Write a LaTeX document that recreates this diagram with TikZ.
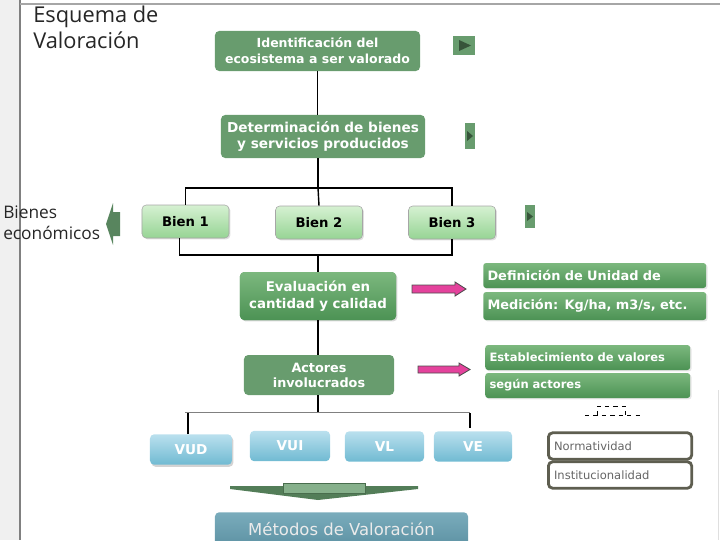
\documentclass[tikz,border=0pt]{standalone}
\usepackage{fontspec}
\setmainfont{DejaVu Sans}
\newfontfamily\titlefont{Open Sans}
\usepackage{xcolor}
\usetikzlibrary{shadows}
\definecolor{verdeop}{RGB}{104,156,110}
\definecolor{verdeosc}{RGB}{55,85,58}
\definecolor{verdesup}{RGB}{124,184,126}
\definecolor{verdeinf}{RGB}{76,146,84}
\definecolor{biensup}{RGB}{214,241,210}
\definecolor{bieninf}{RGB}{150,212,148}
\definecolor{azulsup}{RGB}{186,224,238}
\definecolor{azulinf}{RGB}{112,186,210}
\definecolor{metsup}{RGB}{122,172,188}
\definecolor{metinf}{RGB}{78,132,150}
\definecolor{rosa}{RGB}{228,66,156}
\definecolor{gris}{RGB}{94,94,80}
\begin{document}
\begin{tikzpicture}[x=0.025cm,y=-0.025cm,
		paso/.style={fill=verdeop,rounded corners=3pt,text=white,font=\bfseries,align=center,inner sep=0pt},
		bien/.style={draw=gray!70,top color=biensup,bottom color=bieninf,rounded corners=3pt,font=\fontsize{9.4}{11}\bfseries,minimum width=2.175cm,minimum height=0.825cm,drop shadow={opacity=0.25,shadow xshift=1pt,shadow yshift=-1pt}},
		defi/.style={top color=verdesup,bottom color=verdeinf,rounded corners=2pt,text=white,font=\bfseries,anchor=west,inner xsep=3pt,align=left,drop shadow={opacity=0.2,shadow xshift=1pt,shadow yshift=-1pt}},
		valor/.style={top color=azulsup,bottom color=azulinf,rounded corners=3pt,text=white,font=\fontsize{9.7}{11}\bfseries,minimum height=0.76cm},
		marco/.style={draw=gris,line width=2pt,fill=white,rounded corners=3pt,text=gray!80!black,font=\fontsize{8.2}{10}\selectfont,minimum width=3.55cm,minimum height=0.66cm,anchor=west,inner xsep=4pt,text width=3.3cm,align=left}]
	\useasboundingbox (0,0) rectangle (720,540);
	\clip (0,0) rectangle (720,540);
	% marco de la diapositiva
	\fill[gray!12] (0,0) rectangle (20,540);
	\draw[gray,line width=1.2pt] (20,0) -- (20,540);
	\draw[gray!70,line width=1.2pt] (20,4) -- (720,4);
	\draw[gray!25] (718,390) -- (718,540);
	\node[anchor=north west,align=left,inner sep=0pt,font=\titlefont\fontsize{15.5}{18.5}\selectfont,text=black!85] (tit) at (33,6) {Esquema de\\Valoración};
	% cadena principal
	\node[paso,font=\fontsize{8.9}{11.3}\bfseries,minimum width=5.125cm,minimum height=1cm] (ident) at (317.5,51) {Identificación del\\ecosistema a ser valorado};
	\node[paso,font=\fontsize{9.7}{12}\bfseries,minimum width=5.1cm,minimum height=1.075cm] (deter) at (323,136.5) {Determinación de bienes\\y servicios producidos};
	\node[bien] (bien1) at (185.5,221.5) {Bien 1};
	\node[bien] (bien2) at (319,222.5) {Bien 2};
	\node[bien] (bien3) at (452,222.5) {Bien 3};
	\node[paso,top color=verdesup,bottom color=verdeinf,font=\fontsize{9.5}{12}\bfseries,minimum width=3.9cm,minimum height=1.2cm,drop shadow={opacity=0.3,shadow xshift=1pt,shadow yshift=-1pt}] (eval) at (318,296) {Evaluación en\\cantidad y calidad};
	\node[paso,font=\fontsize{9.1}{10.7}\bfseries,minimum width=3.75cm,minimum height=1cm] (actor) at (319,375) {Actores\\involucrados};
	% cuadros de la derecha
	\node[defi,font=\fontsize{9.2}{11}\bfseries,text width=5.36cm,minimum height=0.625cm] (def1) at (483,275.5) {Definición de Unidad de};
	\node[defi,font=\fontsize{9.2}{11}\bfseries,text width=5.36cm,minimum height=0.7cm] (def2) at (483,306) {Medición: Kg/ha, m3/s, etc.};
	\node[defi,font=\fontsize{8.2}{10}\bfseries,text width=4.91cm,minimum height=0.625cm] (est1) at (485,357.5) {Establecimiento de valores};
	\node[defi,font=\fontsize{8.2}{10}\bfseries,text width=4.91cm,minimum height=0.625cm] (est2) at (485,385.5) {según actores};
	% valores
	\node[valor,minimum width=2.05cm,drop shadow={opacity=0.35,shadow xshift=1pt,shadow yshift=-1.5pt}] (vud) at (191,449.5) {VUD};
	\node[valor,minimum width=2cm] (vui) at (290,446) {VUI};
	\node[valor,minimum width=1.975cm] (vl) at (384.5,446.5) {VL};
	\node[valor,minimum width=1.95cm] (ve) at (473,446.5) {VE};
	\node[top color=metsup,bottom color=metinf,rounded corners=3pt,minimum width=6.325cm,minimum height=1.3cm,anchor=north] (metodos) at (341.5,512) {};
	\node[text=white!92!black,font=\fontsize{11.7}{14}\selectfont] (metxt) at (341.5,529) {Métodos de Valoración};
	\node[marco] (norma) at (547,446) {Normatividad};
	\node[marco] (inst) at (547,475) {Institucionalidad};
	\node[anchor=north west,align=left,inner sep=0pt,font=\titlefont\fontsize{12.3}{14.3}\selectfont,text=black!85] (bienes) at (3,206) {Bienes\\económicos};
	% conectores
	\coordinate (bus1) at (318,188);
	\coordinate (bus2) at (318,255);
	\coordinate (bus3) at (318,412);
	\draw[line width=1.2pt] (ident) -- (deter.north -| ident);
	\draw[line width=1.2pt] (deter.south -| bus1) -- (bus1);
	\draw[line width=0.8pt] (bien1.north) |- (bus1) -| (bien3.north);
	\draw[line width=1pt] (bus1) -- (bien2.north);
	\draw[line width=0.8pt] ([xshift=-0.14cm]bien1.south) |- (bus2) -| (bien3.south);
	\draw[line width=1.2pt] (bus2) -- (eval.north);
	\draw[line width=1.2pt] (eval.south) -- (actor.north -| eval);
	\draw[line width=1.2pt] (actor.south -| bus3) -- (bus3);
	\draw[gray,line width=0.5pt] (185,412) -- (bus3) -- (470,412);
	\draw[line width=1.2pt] (vud.north -| 188,412) -- (188,413);
	\draw[line width=1.2pt] (470,413) -- (470,428);
	% botones
	\fill[verdeop] (453,36) rectangle (475,55);
	\fill[verdeosc] (459,40) -- (471,45.5) -- (459,51) -- cycle;
	\fill[verdeop] (465,123) rectangle (475,149);
	\fill[verdeosc] (467,131) -- (473,136) -- (467,141) -- cycle;
	\fill[verdeop] (525,205) rectangle (535,228);
	\fill[verdeosc] (527,212) -- (533,216.5) -- (527,221) -- cycle;
	% flechas
	\fill[verdeop!85!black] (106,224) -- (113,203) -- (113,212) -- (120,212) -- (120,236) -- (113,236) -- (113,245) -- cycle;
	\draw[fill=rosa,draw=black!70,line width=0.6pt] (412,285) -- (455,285) -- (455,282) -- (466,289) -- (455,296) -- (455,293) -- (412,293) -- cycle;
	\draw[fill=rosa,draw=black!70,line width=0.6pt] (418,366) -- (459,366) -- (459,363) -- (470,369.5) -- (459,376) -- (459,373) -- (418,373) -- cycle;
	\fill[verdeop!80!black] (230,486) -- (418,486) -- (418,489) -- (318,500) -- (230,489) -- cycle;
	\draw[fill=verdeop!80!white,draw=verdeop!70!black] (283,483) rectangle (365,493);
	% llave punteada
	\draw[dashed,line width=0.5pt] (585,415) -- (643,415);
	\draw[dashed,line width=0.5pt] (597,415) -- (597,406) -- (625,406) -- (625,419);
\end{tikzpicture}
\end{document}
